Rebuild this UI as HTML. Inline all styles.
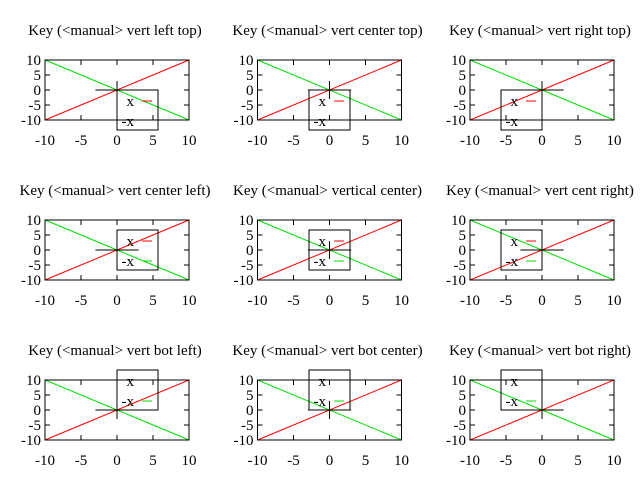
<!DOCTYPE html>
<html><head><meta charset="utf-8"><style>body{margin:0;background:#fff}svg{display:block}text{font-family:"Liberation Serif",serif;font-size:15px;fill:#000}</style></head>
<body>
<svg id="s" width="640" height="480"></svg>
<script>
const titles=["Key (<manual> vert left top)","Key (<manual> vert center top)","Key (<manual> vert right top)","Key (<manual> vert center left)","Key (<manual> vertical center)","Key (<manual> vert cent right)","Key (<manual> vert bot left)","Key (<manual> vert bot center)","Key (<manual> vert bot right)"];
const hAlign=["left","center","right","left","center","right","left","center","right"];
const vAlign=["top","top","top","center","center","center","bottom","bottom","bottom"];
const xTicks=[-10,-5,0,5,10];
const yTicks=[-10,-5,0,5,10];
const seriesX=[-10,10];
const series1=[-10,10];
const series2=[10,-10];
const keyLabels=["x","-x"];
const keyColors=["#ff0000","#00dd00"];
const svg=document.getElementById('s');
const NS='http://www.w3.org/2000/svg';
function mk(t,a,p){const e=document.createElementNS(NS,t);for(const k in a)e.setAttribute(k,a[k]);(p||svg).appendChild(e);return e;}
titles.forEach((title,i)=>{
  const c=i%3,r=Math.floor(i/3);
  const L=45+c*212.5,T=60+r*160,W=144,H=60;
  const g=mk('g',{});
  
  
  const sx=v=>L+(v+10)/20*W, sy=v=>T+H-(v+10)/20*H;
  const t=mk('text',{x:L+W/2-2,y:T-25,'text-anchor':'middle'},g);t.textContent=title;
  
  
  xTicks.forEach(v=>{
    const x=sx(v);
    mk('line',{x1:x,y1:T+H,x2:x,y2:T+H-5,stroke:'#000'},g);
    mk('line',{x1:x,y1:T,x2:x,y2:T+5,stroke:'#000'},g);
    const tx=mk('text',{x:x,y:T+H+25,'text-anchor':'middle'},g);tx.textContent=v;
    
    
  });
  yTicks.forEach(v=>{
    const y=sy(v);
    mk('line',{x1:L,y1:y,x2:L+5,y2:y,stroke:'#000'},g);
    mk('line',{x1:L+W,y1:y,x2:L+W-5,y2:y,stroke:'#000'},g);
    const ty=mk('text',{x:L-4,y:y+5,'text-anchor':'end'},g);ty.textContent=v;
    
    
  });
  [series1,series2].forEach((s,k)=>{
    const ln=mk('line',{x1:sx(seriesX[0]),y1:sy(s[0]),x2:sx(seriesX[1]),y2:sy(s[1]),stroke:keyColors[k]},g);
    
    
  });
  const fr=mk('rect',{x:L,y:T,width:W,height:H,fill:'none',stroke:'#000'},g);
  
  
  const ox=sx(0),oy=sy(0);
  mk('line',{x1:sx(-3),y1:oy,x2:sx(3),y2:oy,stroke:'#000'},g);
  mk('line',{x1:ox,y1:sy(-3),x2:ox,y2:sy(3),stroke:'#000'},g);
  const bw=41,bh=40;
  const bx=hAlign[i]=='left'?ox:hAlign[i]=='center'?ox-bw/2:ox-bw;
  const by=vAlign[i]=='top'?oy:vAlign[i]=='center'?oy-bh/2:oy-bh;
  const kg=mk('g',{},g);
  
  
  mk('rect',{x:bx,y:by,width:bw,height:bh,fill:'none',stroke:'#000'},kg);
  keyLabels.forEach((lab,k)=>{
    const yy=by+11+k*20;
    const kt=mk('text',{x:bx+17,y:yy+5,'text-anchor':'end'},kg);kt.textContent=lab;
    
    
    if(yy>T+2 && yy<T+H-2) mk('line',{x1:bx+25,y1:yy,x2:bx+35,y2:yy,stroke:keyColors[k]},kg);
  });
});
</script>
</body></html>
